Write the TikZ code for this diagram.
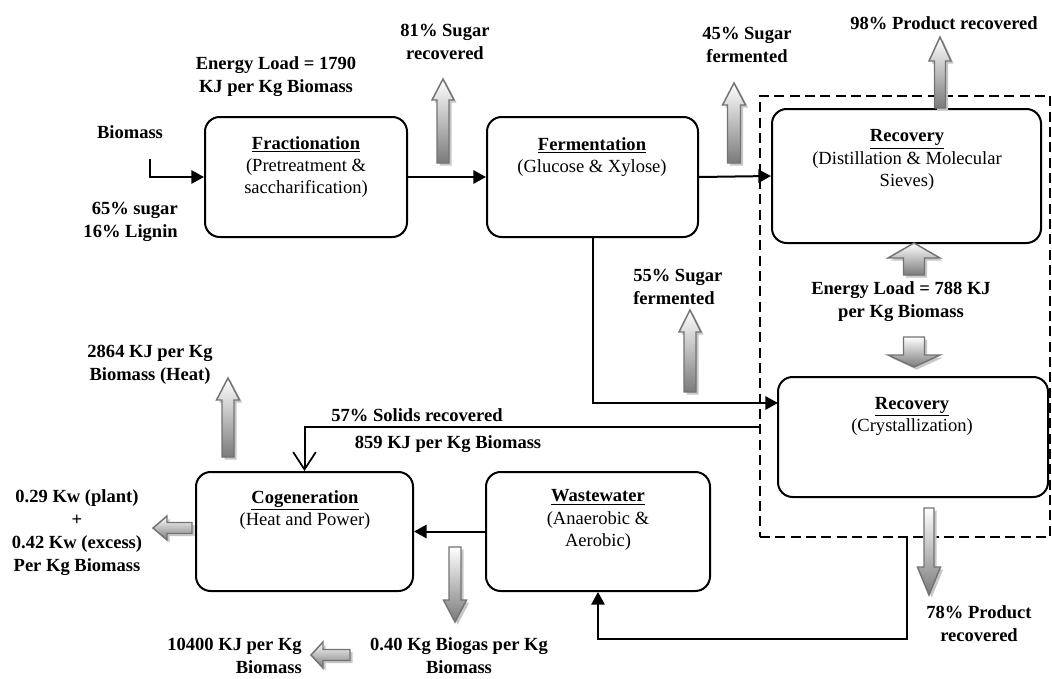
\documentclass[tikz,border=0pt]{standalone}
\usepackage{fontspec}
\setmainfont{Liberation Serif}
\usetikzlibrary{arrows.meta,shadows}
\tikzset{
  box/.style={draw, line width=1.5pt, rounded corners=11pt, inner sep=0pt},
  grpbox/.style={draw, line width=1.2pt, dash pattern=on 7.5pt off 4pt, inner sep=0pt},
  lbl/.style={font=\bfseries\fontsize{13.9}{17.2}\selectfont, align=center, inner sep=0pt},
  btxt/.style={font=\fontsize{13.9}{16.6}\selectfont, align=center, inner sep=0pt},
  flow/.style={line width=1.5pt, -{Triangle[length=9.5pt,width=10pt]}},
  openflow/.style={line width=1.5pt, -{Straight Barb[length=13pt,width=17pt,line width=1.3pt]}},
  fat/.style={draw=black!55, line width=1.1pt, top color=white, bottom color=black!52,
    drop shadow={shadow xshift=2pt, shadow yshift=-2pt, fill=black!22, opacity=1}}
}
\newcommand\fatV[6]{\path[fat] ({#1-#5},#2) -- ({#1-#5},#3) -- ({#1-#6},#3) -- (#1,#4) -- ({#1+#6},#3) -- ({#1+#5},#3) -- ({#1+#5},#2) -- cycle;}
\newcommand\fatH[6]{\path[fat] (#2,{#1-#5}) -- (#3,{#1-#5}) -- (#3,{#1-#6}) -- (#4,#1) -- (#3,{#1+#6}) -- (#3,{#1+#5}) -- (#2,{#1+#5}) -- cycle;}
\begin{document}
\begin{tikzpicture}[x=0.75pt, y=-0.75pt]
\useasboundingbox[fill=white] (0,0) rectangle (1052,678);

% group (dashed)
\node[grpbox, minimum width=217.5pt, minimum height=330.75pt] (grp) at (905,316.5) {};

% process boxes
\node[box, minimum width=151.5pt, minimum height=90pt] (frac) at (306,177) {};
\node[box, minimum width=158.25pt, minimum height=90pt] (ferm) at (592.5,177) {};
\node[box, minimum width=201.75pt, minimum height=100.5pt] (rec1) at (906.5,176) {};
\node[box, minimum width=202.5pt, minimum height=90pt] (rec2) at (913,437) {};
\node[box, minimum width=162.75pt, minimum height=89.25pt] (cogen) at (304.5,531.5) {};
\node[box, minimum width=168pt, minimum height=89.25pt] (ww) at (598,531.5) {};

% box texts
\node[btxt] (fracT) at (306,167) {\textbf{\underline{Fractionation}}\\(Pretreatment \&\\saccharification)};
\node[btxt] (fermT) at (592,157) {\textbf{\underline{Fermentation}}\\(Glucose \& Xylose)};
\node[btxt] (rec1T) at (907,160) {\textbf{\underline{Recovery}}\\(Distillation \& Molecular\\Sieves)};
\node[btxt] (rec2T) at (912,416) {\textbf{\underline{Recovery}}\\(Crystallization)};
\node[btxt] (cogenT) at (305,510) {\textbf{\underline{Cogeneration}}\\(Heat and Power)};
\node[btxt] (wwT) at (598,520) {\textbf{\underline{Wastewater}}\\(Anaerobic \&\\Aerobic)};

% connectors
\coordinate (bioA) at (150,159);
\draw[flow] (bioA) |- (frac.west);
\draw[flow] (frac.east) -- (ferm.west);
\draw[flow] (ferm.east) -- (rec1.west);
\coordinate (r2in) at (778,403);
\draw[flow] (ferm.south) |- (r2in);
\coordinate (solidsA) at (760,427);
\draw[openflow] (solidsA) -| (cogen.north);
\draw[flow] (ww.west) -- (cogen.east);
\coordinate (p78) at (907,537);
\draw[flow] (p78) -- ++(0,102) -| (ww.south);

% labels
\node[lbl] (lbio) at (130,132) {Biomass};
\node[lbl, align=right, anchor=east] (lfeed) at (178,221.5) {65\% sugar\\16\% Lignin};
\node[lbl] (le1) at (276,76.5) {Energy Load = 1790\\KJ per Kg Biomass};
\node[lbl] (l81) at (445,41.5) {81\% Sugar\\recovered};
\node[lbl] (l45) at (747,45) {45\% Sugar\\fermented};
\node[lbl] (l98) at (944,23) {98\% Product recovered};
\node[lbl, align=left, anchor=west] (l55) at (633,286.5) {55\% Sugar\\fermented};
\node[lbl] (le2) at (901,302) {Energy Load = 788 KJ\\per Kg Biomass};
\node[lbl] (lheat) at (150,365) {2864 KJ per Kg\\Biomass (Heat)};
\node[lbl] (l57) at (417,415) {57\% Solids recovered};
\node[lbl] (l859) at (448,444) {859 KJ per Kg Biomass};
\node[lbl] (lkw) at (77,533) {0.29 Kw (plant)\\+\\0.42 Kw (excess)\\Per Kg Biomass};
\node[lbl, align=right, anchor=east] (l104) at (302,656) {10400 KJ per Kg\\Biomass};
\node[lbl] (lbg) at (459,656) {0.40 Kg Biogas per Kg\\Biomass};
\node[lbl] (l78) at (979,623.5) {78\% Product\\recovered};

% block arrows
\fatV{443}{163}{100}{79}{6}{11}
\fatV{734}{163}{105}{83}{6.5}{11.5}
\fatV{940}{108}{61}{37}{5.5}{11}
\fatV{690}{392}{332}{310}{6}{11}
\fatV{228}{457}{400}{378}{6}{11.5}
\fatV{914}{275}{258}{243}{10.5}{26}
\fatV{914}{337}{355}{367}{10.5}{26}
\fatV{929}{508}{567}{595}{5}{11.5}
\fatV{455}{547}{600}{622}{6}{11.5}
\fatH{528}{192}{167}{153}{5.5}{12}
\fatH{655}{350}{323}{311}{5.5}{13}
\end{tikzpicture}
\end{document}
